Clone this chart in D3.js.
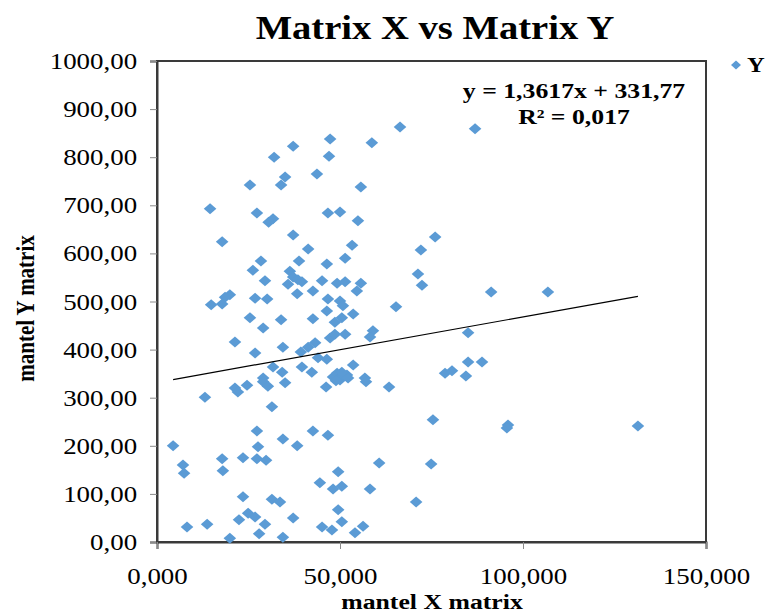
<!DOCTYPE html>
<html>
<head>
<meta charset="utf-8">
<script src="https://cdn.jsdelivr.net/npm/d3@7/dist/d3.min.js"></script>
<style>
  html, body { margin: 0; padding: 0; background: #ffffff; }
  svg { display: block; font-family: "Liberation Serif", "Times New Roman", serif; }
</style>
</head>
<body>
<svg id="chart" width="769" height="615"></svg>
<script>
// ---- data (x = mantel X matrix, y = mantel Y matrix) ----
const xValues = [
  66.4, 86.9, 47.3, 58.7, 37.2, 32.0, 47.0, 35.0, 33.9, 43.7,
  25.4, 55.7, 14.5, 27.3, 31.7, 46.7, 50.0, 30.5, 54.9, 17.8,
  37.2, 53.3, 41.3, 76.0, 72.1, 28.4, 38.8, 46.4, 51.4, 26.2,
  36.3, 37.2, 38.5, 39.6, 29.5, 35.8, 45.1, 49.2, 51.4, 55.7,
  71.3, 72.4, 42.6, 54.6, 38.3, 19.9, 18.6, 14.8, 17.8, 26.8,
  30.1, 46.7, 50.0, 50.8, 91.3, 106.8, 46.4, 53.6, 65.3, 25.4,
  33.9, 42.6, 48.6, 50.5, 29.0, 47.3, 48.6, 51.4, 59.0, 58.2,
  85.0, 21.3, 26.8, 34.4, 39.3, 41.3, 43.2, 44.0, 46.4, 31.7,
  34.2, 39.6, 42.3, 29.0, 53.6, 85.0, 88.8, 78.7, 80.6, 84.4,
  56.8, 57.1, 63.4, 48.1, 49.2, 50.0, 50.8, 51.9, 52.2, 48.9,
  50.5, 46.2, 13.1, 21.3, 22.1, 24.6, 29.0, 30.3, 35.0, 31.4,
  27.3, 42.6, 46.7, 34.4, 38.3, 4.4, 27.6, 17.8, 23.5, 27.3,
  29.8, 7.1, 7.4, 18.0, 44.5, 49.5, 48.1, 50.5, 23.5, 31.4,
  33.6, 24.9, 26.8, 22.4, 29.5, 37.2, 8.2, 13.7, 49.5, 50.5,
  45.1, 47.8, 27.9, 34.4, 19.9, 75.4, 95.9, 95.6, 60.7, 74.9,
  58.2, 70.8, 56.3, 54.1, 131.4
];
const yValues = [
  863, 859, 838, 830, 823, 800, 802, 759, 742, 765,
  742, 738, 693, 684, 672, 684, 686, 665, 668, 624,
  638, 617, 609, 634, 607, 584, 584, 578, 590, 565,
  563, 551, 545, 541, 543, 536, 543, 538, 541, 538,
  557, 534, 522, 522, 516, 514, 509, 493, 495, 507,
  505, 505, 501, 491, 520, 520, 480, 474, 489, 466,
  462, 464, 457, 466, 445, 424, 432, 432, 439, 426,
  435, 416, 393, 405, 395, 405, 414, 383, 380, 364,
  353, 364, 353, 341, 368, 374, 374, 351, 356, 345,
  341, 333, 322, 343, 351, 337, 347, 347, 341, 335,
  353, 322, 301, 320, 312, 326, 333, 324, 331, 281,
  231, 231, 222, 214, 200, 200, 198, 173, 175, 173,
  170, 160, 143, 148, 123, 146, 110, 116, 94, 89,
  83, 60, 52, 46, 37, 50, 31, 37, 67, 42,
  31, 25, 17, 10, 8, 254, 243, 237, 164, 162,
  110, 83, 33, 19, 241
];
const xTicks = [0, 50, 100, 150];
const yTicks = [0, 100, 200, 300, 400, 500, 600, 700, 800, 900, 1000];
const trendSlope = 1.3617;
const trendIntercept = 331.77;
const titleText = "Matrix X vs Matrix Y";
const xTitle = "mantel X matrix";
const yTitle = "mantel Y matrix";
const seriesName = "Y";
const equationText = "y = 1,3617x + 331,77";
const r2Text = "R² = 0,017";

// ---- layout ----
const svg = d3.select("#chart");
const plot = { left: 157, top: 61, right: 706, bottom: 542 };
const SX = 1.17; // horizontal stretch of the reference's text
const blue = "#5B9BD5";

const x = d3.scaleLinear().domain([0, 150]).range([plot.left, plot.right]);
const y = d3.scaleLinear().domain([0, 1000]).range([plot.bottom, plot.top]);

const fmtX = v => d3.format(".3f")(v).replace(".", ",");
const fmtY = v => d3.format(".2f")(v).replace(".", ",");

function stretchedText(xp, yp, txt, opts) {
  const g = svg.append("g").attr("transform", `translate(${xp},${yp}) scale(${SX},1)`);
  return g.append("text")
    .attr("x", 0).attr("y", 0)
    .attr("text-anchor", opts.anchor || "start")
    .attr("font-size", opts.size)
    .attr("font-weight", opts.weight || "normal")
    .attr("fill", "#000")
    .text(txt);
}

// title
stretchedText(435, 39, titleText, { size: 33, weight: "bold", anchor: "middle" });

// plot frame
svg.append("rect")
  .attr("x", plot.left).attr("y", plot.top)
  .attr("width", plot.right - plot.left).attr("height", plot.bottom - plot.top)
  .attr("fill", "#fff").attr("stroke", "#3a3a3a").attr("stroke-width", 2);

// y axis
const yAxis = svg.append("g").attr("transform", `translate(${plot.left},0)`)
  .call(d3.axisLeft(y).tickValues(yTicks).tickSize(7).tickFormat(fmtY));
yAxis.select(".domain").attr("stroke", "#3a3a3a").attr("stroke-width", 2);
yAxis.selectAll(".tick line").attr("stroke", "#8a8a8a");
yAxis.selectAll(".tick text")
  .attr("x", -17).attr("dy", "0.33em")
  .attr("transform", `scale(${SX},1)`)
  .attr("font-family", "Liberation Serif, serif")
  .attr("font-size", 23).attr("fill", "#000");

// x axis
const xAxis = svg.append("g").attr("transform", `translate(0,${plot.bottom})`)
  .call(d3.axisBottom(x).tickValues(xTicks).tickSize(7).tickFormat(fmtX));
xAxis.select(".domain").attr("stroke", "#3a3a3a").attr("stroke-width", 2);
xAxis.selectAll(".tick line").attr("stroke", "#8a8a8a");
xAxis.selectAll(".tick text")
  .attr("y", 42).attr("dy", 0)
  .attr("transform", `scale(${SX},1)`)
  .attr("font-family", "Liberation Serif, serif")
  .attr("font-size", 23).attr("fill", "#000");

// axis titles
stretchedText(432, 609, xTitle, { size: 22, weight: "bold", anchor: "middle" });
svg.append("text")
  .attr("transform", `translate(34,${(plot.top + plot.bottom) / 2 + 7}) rotate(-90) scale(1,${SX})`)
  .attr("text-anchor", "middle")
  .attr("font-size", 21).attr("font-weight", "bold").attr("fill", "#000")
  .text(yTitle);

// points
const data = xValues.map((d, i) => ({ x: d, y: yValues[i] }));
const diamond = "M0,-5.5L6.3,0L0,5.5L-6.3,0Z";
svg.append("g").selectAll("path")
  .data(data).join("path")
  .attr("d", diamond)
  .attr("transform", d => `translate(${x(d.x)},${y(d.y)})`)
  .attr("fill", blue);

// trendline
const xMin = d3.min(xValues), xMax = d3.max(xValues);
svg.append("line")
  .attr("x1", x(xMin)).attr("y1", y(trendSlope * xMin + trendIntercept))
  .attr("x2", x(xMax)).attr("y2", y(trendSlope * xMax + trendIntercept))
  .attr("stroke", "#000").attr("stroke-width", 1.2);

// equation
stretchedText(574, 98, equationText, { size: 22, weight: "bold", anchor: "middle" });
stretchedText(574, 124, r2Text, { size: 22, weight: "bold", anchor: "middle" });

// legend
svg.append("path").attr("d", "M0,-4.5L5,0L0,4.5L-5,0Z")
  .attr("transform", "translate(736,65)").attr("fill", blue);
stretchedText(747, 72, seriesName, { size: 21, weight: "bold", anchor: "start" });
</script>
</body>
</html>
